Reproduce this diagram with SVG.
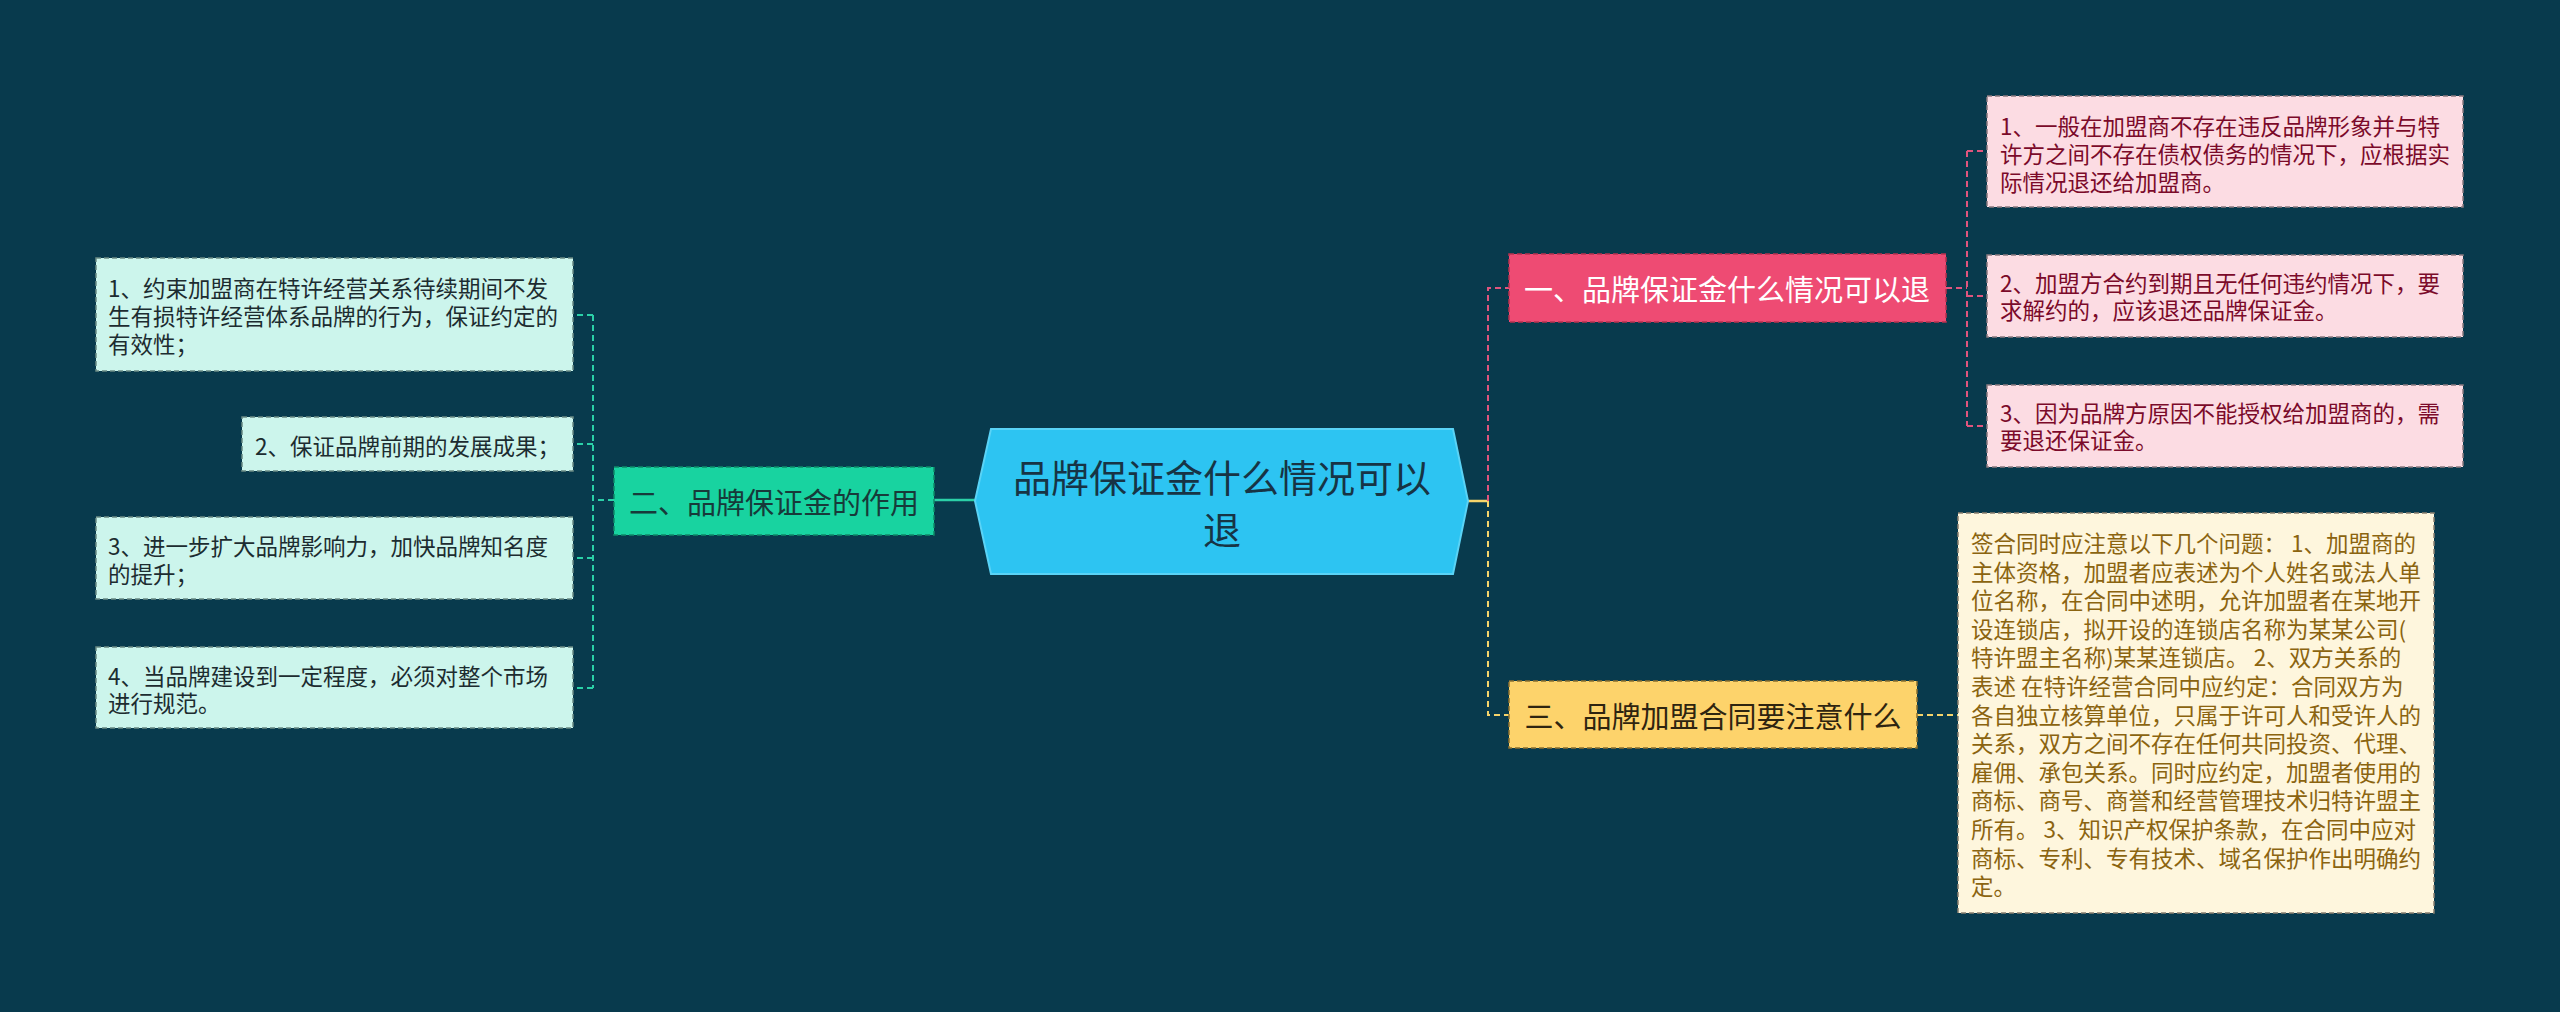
<svg xmlns="http://www.w3.org/2000/svg" width="2560" height="1012" viewBox="0 0 2560 1012">
<style>
text{font-family:"Noto Sans CJK SC","Noto Sans",sans-serif;dominant-baseline:central}
.c{fill:none;stroke-width:2;stroke-dasharray:6 4}
.box{stroke-width:1.5;stroke-dasharray:5 3}
.t22{font-size:22.5px}
.t29{font-size:29px}
</style>
<rect width="2560" height="1012" fill="#083a4d"/>
<g id="connectors">
<line x1="934" y1="500" x2="975" y2="500" stroke="#2bd0a8" stroke-width="2.5"/>
<line x1="1468" y1="501" x2="1488" y2="501" stroke="#f5d46b" stroke-width="2.5"/>
<path class="c" stroke="#e0557e" d="M1488,501 L1488,288 L1509,288"/>
<path class="c" stroke="#f5d46b" d="M1488,501 L1488,715 L1509,715"/>
<path class="c" stroke="#e0557e" d="M1946,288 L1967,288 M1967,151 L1967,426 M1967,151 L1987,151 M1967,296 L1987,296 M1967,426 L1987,426"/>
<path class="c" stroke="#f5d46b" d="M1917,715 L1958,715"/>
<path class="c" stroke="#2bd0a8" d="M614,500 L593,500 M593,315 L593,688 M593,315 L573,315 M593,444 L573,444 M593,558 L573,558 M593,688 L573,688"/>
</g>
<g id="center">
<polygon points="991,429 1453,429 1468,501 1453,574 991,574 975,501" fill="#2dc4f2" stroke="#5ad3f6" stroke-width="2"/>
<text x="1222" y="475" font-size="38" fill="#173445" text-anchor="middle">品牌保证金什么情况可以</text>
<text x="1222" y="527" font-size="38" fill="#173445" text-anchor="middle">退</text>
</g>
<g id="n1">
<rect class="box" x="1509" y="254" width="437" height="68" fill="#ee4b73" stroke="#b8324f"/>
<text class="t29" x="1727" y="288" fill="#fff" text-anchor="middle">一、品牌保证金什么情况可以退</text>
</g>
<g id="n1c1">
<rect class="box" x="1987" y="96" width="476" height="111" fill="#fcdce3" stroke="#8a7a80"/>
<text class="t22" x="2000" y="125" fill="#7b0a2a">1、一般在加盟商不存在违反品牌形象并与特</text>
<text class="t22" x="2000" y="153" fill="#7b0a2a">许方之间不存在债权债务的情况下，应根据实</text>
<text class="t22" x="2000" y="181" fill="#7b0a2a">际情况退还给加盟商。</text>
</g>
<g id="n1c2">
<rect class="box" x="1987" y="255" width="476" height="82" fill="#fcdce3" stroke="#8a7a80"/>
<text class="t22" x="2000" y="282" fill="#7b0a2a">2、加盟方合约到期且无任何违约情况下，要</text>
<text class="t22" x="2000" y="309" fill="#7b0a2a">求解约的，应该退还品牌保证金。</text>
</g>
<g id="n1c3">
<rect class="box" x="1987" y="385" width="476" height="82" fill="#fcdce3" stroke="#8a7a80"/>
<text class="t22" x="2000" y="412" fill="#7b0a2a">3、因为品牌方原因不能授权给加盟商的，需</text>
<text class="t22" x="2000" y="439" fill="#7b0a2a">要退还保证金。</text>
</g>
<g id="n3">
<rect class="box" x="1509" y="681" width="408" height="67" fill="#fdd36b" stroke="#8a7030"/>
<text class="t29" x="1713" y="715" fill="#2e2410" text-anchor="middle">三、品牌加盟合同要注意什么</text>
</g>
<g id="n3c1">
<rect class="box" x="1958" y="513" width="476" height="400" fill="#fef6dd" stroke="#8a8070"/>
<g class="t22" fill="#8b6410">
<text x="1971" y="542">签合同时应注意以下几个问题： 1、加盟商的</text>
<text x="1971" y="570.6">主体资格，加盟者应表述为个人姓名或法人单</text>
<text x="1971" y="599.2">位名称，在合同中述明，允许加盟者在某地开</text>
<text x="1971" y="627.8">设连锁店，拟开设的连锁店名称为某某公司(</text>
<text x="1971" y="656.4">特许盟主名称)某某连锁店。 2、双方关系的</text>
<text x="1971" y="685">表述 在特许经营合同中应约定：合同双方为</text>
<text x="1971" y="713.6">各自独立核算单位，只属于许可人和受许人的</text>
<text x="1971" y="742.2">关系，双方之间不存在任何共同投资、代理、</text>
<text x="1971" y="770.8">雇佣、承包关系。同时应约定，加盟者使用的</text>
<text x="1971" y="799.4">商标、商号、商誉和经营管理技术归特许盟主</text>
<text x="1971" y="828">所有。 3、知识产权保护条款，在合同中应对</text>
<text x="1971" y="856.6">商标、专利、专有技术、域名保护作出明确约</text>
<text x="1971" y="885.2">定。</text>
</g>
</g>
<g id="n2">
<rect class="box" x="614" y="467" width="320" height="68" fill="#18d3a0" stroke="#0e8a68"/>
<text class="t29" x="774" y="501" fill="#173a3a" text-anchor="middle">二、品牌保证金的作用</text>
</g>
<g id="n2c1">
<rect class="box" x="96" y="258" width="477" height="113" fill="#ccf5ec" stroke="#6a8a84"/>
<text class="t22" x="108" y="287" fill="#1c2c30">1、约束加盟商在特许经营关系待续期间不发</text>
<text class="t22" x="108" y="315" fill="#1c2c30">生有损特许经营体系品牌的行为，保证约定的</text>
<text class="t22" x="108" y="343" fill="#1c2c30">有效性；</text>
</g>
<g id="n2c2">
<rect class="box" x="242" y="417" width="331" height="54" fill="#ccf5ec" stroke="#6a8a84"/>
<text class="t22" x="255" y="445" fill="#1c2c30">2、保证品牌前期的发展成果；</text>
</g>
<g id="n2c3">
<rect class="box" x="96" y="517" width="477" height="82" fill="#ccf5ec" stroke="#6a8a84"/>
<text class="t22" x="108" y="545" fill="#1c2c30">3、进一步扩大品牌影响力，加快品牌知名度</text>
<text class="t22" x="108" y="573" fill="#1c2c30">的提升；</text>
</g>
<g id="n2c4">
<rect class="box" x="96" y="647" width="477" height="81" fill="#ccf5ec" stroke="#6a8a84"/>
<text class="t22" x="108" y="675" fill="#1c2c30">4、当品牌建设到一定程度，必须对整个市场</text>
<text class="t22" x="108" y="702" fill="#1c2c30">进行规范。</text>
</g>
</svg>
